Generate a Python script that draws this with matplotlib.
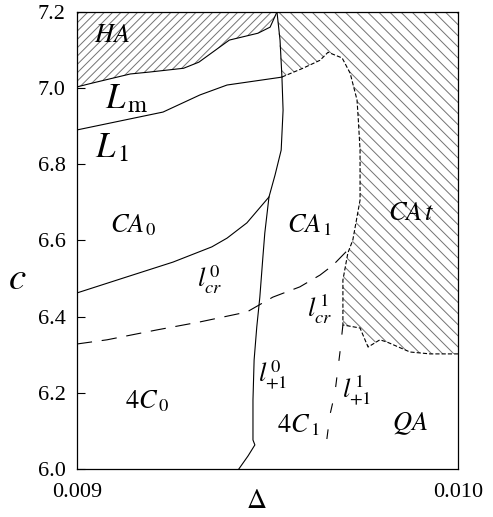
import matplotlib
matplotlib.use("Agg")
from matplotlib import pyplot as plt

# region boundaries (delta, c)
ha_d = [0.009, 0.00904, 0.00914, 0.00919, 0.00928, 0.00932, 0.00940, 0.009475, 0.009507, 0.009525]
ha_c = [7.003, 7.013, 7.037, 7.042, 7.052, 7.068, 7.126, 7.144, 7.160, 7.2]

lm_d = [0.009, 0.009226, 0.009323, 0.009394, 0.009533, 0.009538]
lm_c = [6.890, 6.937, 6.982, 7.008, 7.028, 7.029]

l0_d = [0.009525, 0.009533, 0.009538, 0.009541, 0.009536, 0.009520, 0.009504, 0.009493,
        0.009488, 0.009480, 0.009472, 0.009465, 0.009462, 0.009462, 0.009467, 0.009449, 0.009425]
l0_c = [7.2, 7.126, 7.029, 6.942, 6.837, 6.772, 6.714, 6.619,
        6.556, 6.451, 6.373, 6.286, 6.181, 6.076, 6.063, 6.034, 6.0]

lcr0_d = [0.009, 0.009121, 0.009252, 0.009354, 0.009394, 0.009446, 0.009504]
lcr0_c = [6.462, 6.501, 6.543, 6.583, 6.606, 6.646, 6.714]

lcr1_d = [0.009, 0.009079, 0.009210, 0.009323, 0.009446, 0.009514, 0.009585, 0.009638, 0.009672, 0.009711]
lcr1_c = [6.328, 6.339, 6.365, 6.386, 6.412, 6.451, 6.478, 6.509, 6.535, 6.575]

cat_d = [0.009538, 0.009593, 0.009638, 0.009659, 0.009696, 0.009717, 0.009735, 0.009738, 0.009743,
         0.009743, 0.009724, 0.009711, 0.009698, 0.009698, 0.009743, 0.009756, 0.009764, 0.009795,
         0.009814, 0.009874, 0.009927, 0.010]
cat_c = [7.029, 7.052, 7.073, 7.094, 7.079, 7.039, 6.969, 6.924, 6.837,
         6.706, 6.601, 6.567, 6.496, 6.378, 6.370, 6.339, 6.320, 6.339,
         6.333, 6.307, 6.302, 6.302]

lp1_d = [0.009698, 0.009690, 0.009677, 0.009664, 0.009651]
lp1_c = [6.378, 6.304, 6.199, 6.142, 6.040]

yticks = [6.0, 6.2, 6.4, 6.6, 6.8, 7.0, 7.2]
xticks = [0.009, 0.010]

plt.rcParams['font.family'] = ['Liberation Serif', 'DejaVu Serif']
plt.rcParams['mathtext.fontset'] = 'stix'
plt.rcParams['hatch.linewidth'] = 0.7
plt.rcParams['hatch.color'] = '0.45'
plt.rcParams['lines.scale_dashes'] = False

fig = plt.figure(figsize=(4.93, 5.17), dpi=100)
ax = fig.add_axes([0.156, 0.093, 0.773, 0.884])

# hatched regions
ax.fill([0.009] + ha_d + [0.009], [7.2] + ha_c + [7.2],
        facecolor='none', edgecolor='0.45', hatch='////', linewidth=0)
top_d = l0_d[:3][::-1]
top_c = l0_c[:3][::-1]
ax.fill(cat_d + [0.010, 0.009525] + top_d[1:], cat_c + [7.2, 7.2] + top_c[1:],
        facecolor='none', edgecolor='0.45', hatch='\\\\\\', linewidth=0)

k = dict(color='k', lw=0.8)
ax.plot(ha_d, ha_c, **k)
ax.plot(lm_d, lm_c, **k)
ax.plot(l0_d, l0_c, **k)
ax.plot(lcr0_d, lcr0_c, **k)
ax.plot(lcr1_d, lcr1_c, linestyle=(0, (11, 7)), **k)
ax.plot(cat_d, cat_c, linestyle=(0, (3, 1.5)), **k)
ax.plot(lp1_d, lp1_c, linestyle=(0, (7, 12)), **k)

fs = 19
ax.text(0.009092, 7.136, '$HA$', fontsize=fs, ha='center', va='center')
ax.text(0.009073, 6.948, r'$L_{\,\mathrm{m}}$', fontsize=25, va='baseline')
ax.text(0.009047, 6.819, r'$L_{\,1}$', fontsize=25, va='baseline')
ax.text(0.009087, 6.622, r'$CA_{\,0}$', fontsize=fs, va='baseline')
ax.text(0.009315, 6.478, r'$l^{\,0}_{cr}$', fontsize=fs, va='baseline')
ax.text(0.009551, 6.622, r'$CA_{\,1}$', fontsize=fs, va='baseline')
ax.text(0.009816, 6.654, r'$CA\,t$', fontsize=fs, va='baseline')
ax.text(0.009604, 6.399, r'$l^{\,1}_{cr}$', fontsize=fs, va='baseline')
ax.text(0.009475, 6.228, r'$l^{\,0}_{+1}$', fontsize=fs, va='baseline')
ax.text(0.009696, 6.186, r'$l^{\,1}_{+1}$', fontsize=fs, va='baseline')
ax.text(0.009126, 6.160, r'$4C_{\,0}$', fontsize=fs, va='baseline')
ax.text(0.009525, 6.097, r'$4C_{\,1}$', fontsize=fs, va='baseline')
ax.text(0.009827, 6.102, r'$QA$', fontsize=fs, va='baseline')

ax.set_xlim(0.009, 0.010)
ax.set_ylim(6.0, 7.2)
ax.set_xticks(xticks)
ax.set_xticklabels(['0.009', '0.010'])
ax.set_yticks(yticks)
ax.set_yticklabels(['%.1f' % v for v in yticks])
ax.tick_params(axis='y', direction='in', length=6, width=0.8, labelsize=16, pad=8)
ax.tick_params(axis='x', length=0, labelsize=16, pad=10)
for s in ax.spines.values():
    s.set_linewidth(0.9)

fig.text(0.52, 0.03, r'$\Delta$', fontsize=20, ha='center', va='center')
fig.text(0.035, 0.46, '$c$', fontsize=28, ha='center', va='center')

fig.savefig('out.png', dpi=100)
